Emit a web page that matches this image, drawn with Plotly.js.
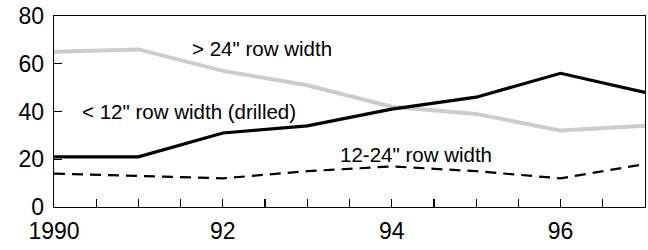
<!DOCTYPE html>
<html>
<head>
<meta charset="utf-8">
<script src="https://cdn.plot.ly/plotly-3.0.1.min.js"></script>
<style>html,body{margin:0;padding:0;background:#fff;}#chart{width:648px;height:250px;}</style>
</head>
<body>
<div id="chart"></div>
<script>
const years = [1990, 1991, 1992, 1993, 1994, 1995, 1996, 1997];
const drilled = [21, 21, 31, 34, 41, 46, 56, 48];
const wide = [65, 66, 57, 51, 42, 39, 32, 34];
const medium = [14, 13, 12, 15, 17, 15, 12, 18];
const tickVals = [1990, 1992, 1994, 1996];
const tickText = ['1990', '92', '94', '96'];
const labelNames = ['> 24" row width', '< 12" row width (drilled)', '12-24" row width'];

const font = 'Liberation Sans, Arial, sans-serif';
const traces = [
  {x: years, y: wide, mode: 'lines', line: {color: '#cccccc', width: 4}, name: labelNames[0]},
  {x: years, y: drilled, mode: 'lines', line: {color: '#000000', width: 3.2}, name: labelNames[1]},
  {x: years, y: medium, mode: 'lines', line: {color: '#000000', width: 2.2, dash: '11px,7px'}, name: labelNames[2]}
];
const layout = {
  width: 648, height: 250,
  margin: {l: 54, r: 3, t: 16, b: 43},
  paper_bgcolor: '#ffffff', plot_bgcolor: '#ffffff',
  showlegend: false,
  font: {family: font, color: '#000', size: 23},
  xaxis: {
    range: [1990, 1997], tickvals: tickVals, ticktext: tickText,
    ticks: 'inside', ticklen: 8, tickwidth: 1.2, tickcolor: '#000',
    showline: true, linecolor: '#000', linewidth: 1.3, mirror: true,
    showgrid: false, zeroline: false,
    ticklabelstandoff: 3,
    tickfont: {size: 23, family: font},
    minor: {dtick: 0.5, tick0: 1990, ticks: 'inside', ticklen: 8, tickwidth: 1.2, tickcolor: '#000', showgrid: false}
  },
  yaxis: {
    range: [0, 80], dtick: 20, tick0: 0,
    ticks: 'inside', ticklen: 8, tickwidth: 1.2, tickcolor: '#000',
    showline: true, linecolor: '#000', linewidth: 1.3, mirror: true,
    showgrid: false, zeroline: false,
    ticklabelstandoff: 4,
    tickfont: {size: 23, family: font}
  },
  annotations: [
    {x: 1992.467, y: 66.2, text: labelNames[0], showarrow: false, xanchor: 'center', yanchor: 'middle', font: {size: 20.5, family: font, color: '#000'}},
    {x: 1991.604, y: 40.2, text: labelNames[1], showarrow: false, xanchor: 'center', yanchor: 'middle', font: {size: 20.5, family: font, color: '#000'}},
    {x: 1994.29, y: 21.8, text: labelNames[2], showarrow: false, xanchor: 'center', yanchor: 'middle', font: {size: 20.5, family: font, color: '#000'}}
  ]
};
Plotly.newPlot('chart', traces, layout, {staticPlot: true, displayModeBar: false});
</script>
</body>
</html>
